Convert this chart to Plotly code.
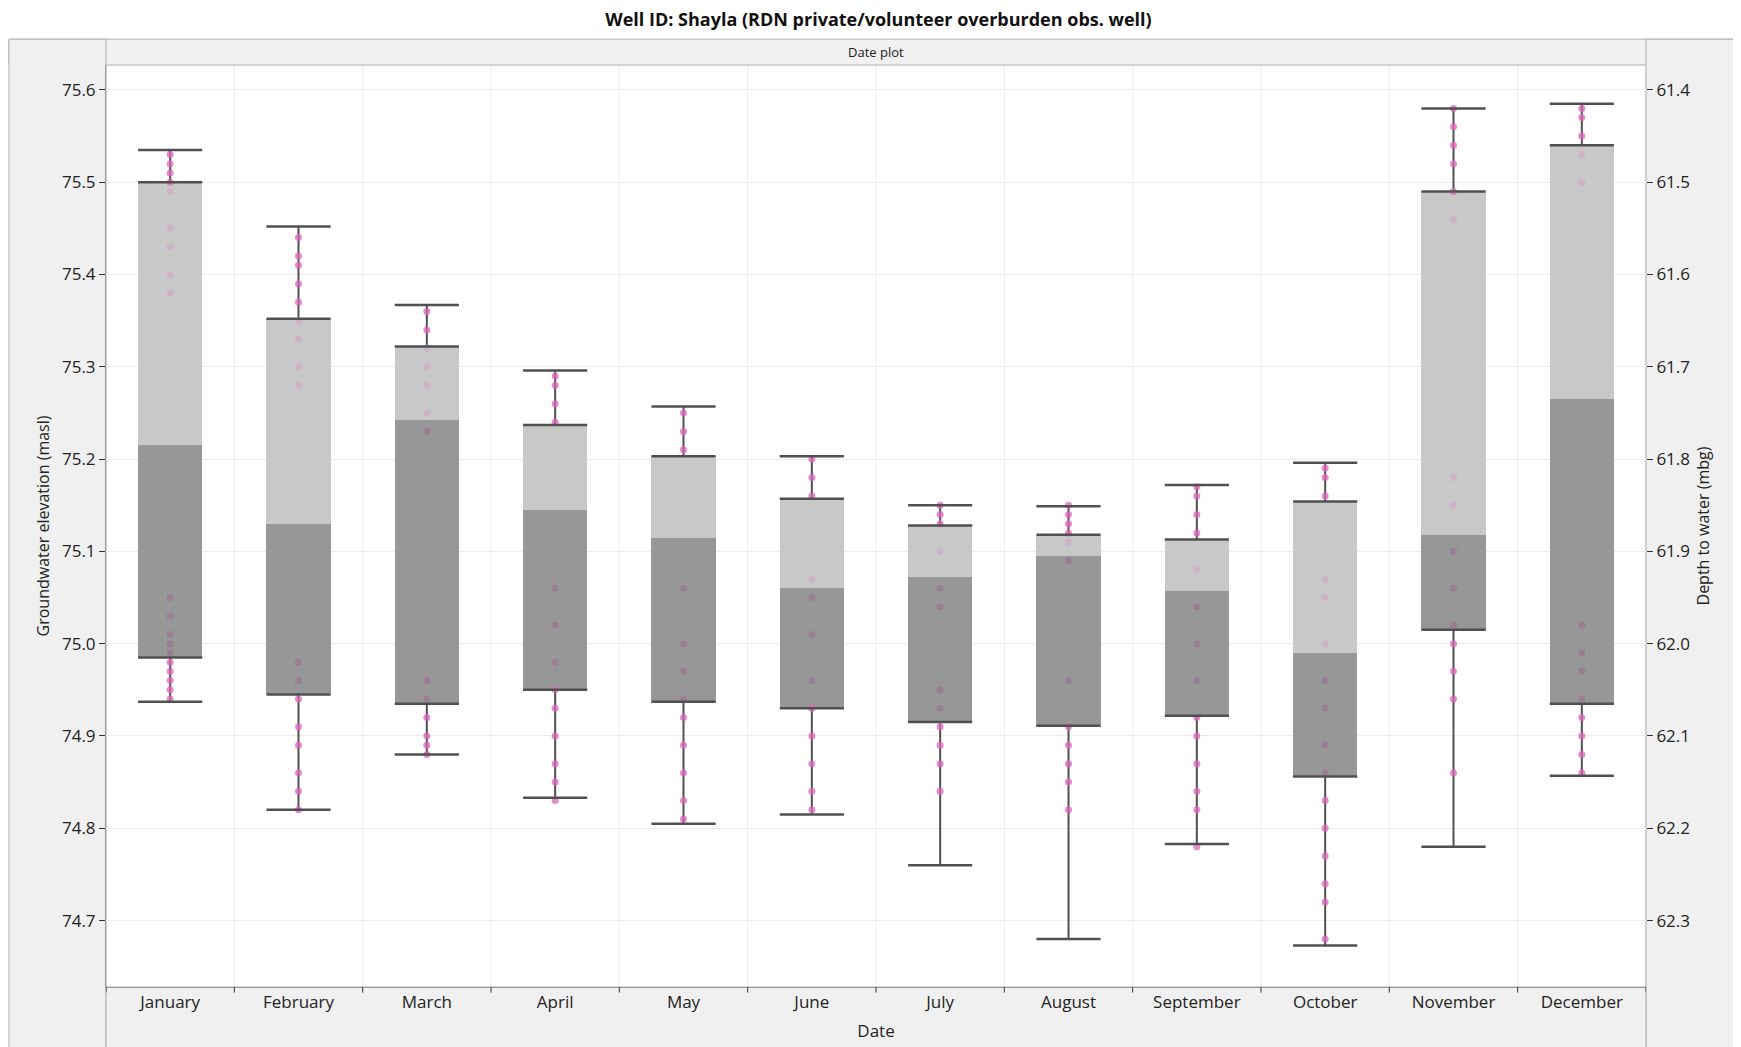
import plotly.graph_objects as go

months = ['January', 'February', 'March', 'April', 'May', 'June', 'July',
          'August', 'September', 'October', 'November', 'December']
w_min = [74.937, 74.820, 74.880, 74.833, 74.805, 74.815, 74.760, 74.680, 74.783, 74.673, 74.780, 74.857]
q1 = [74.985, 74.945, 74.935, 74.950, 74.937, 74.930, 74.915, 74.911, 74.922, 74.856, 75.015, 74.935]
med = [75.215, 75.130, 75.242, 75.145, 75.115, 75.060, 75.072, 75.095, 75.057, 74.990, 75.118, 75.265]
q3 = [75.500, 75.352, 75.322, 75.237, 75.203, 75.157, 75.128, 75.118, 75.113, 75.154, 75.490, 75.540]
w_max = [75.535, 75.452, 75.367, 75.296, 75.257, 75.203, 75.150, 75.149, 75.172, 75.196, 75.580, 75.585]

obs = [
    [74.94, 74.95, 74.96, 74.97, 74.98, 74.99, 75.00, 75.01, 75.03, 75.05, 75.38, 75.40, 75.43, 75.45, 75.49, 75.50, 75.51, 75.52, 75.53],
    [74.82, 74.84, 74.86, 74.89, 74.91, 74.94, 74.96, 74.98, 75.28, 75.30, 75.33, 75.35, 75.37, 75.39, 75.41, 75.42, 75.44],
    [74.88, 74.89, 74.90, 74.92, 74.94, 74.96, 75.23, 75.25, 75.28, 75.30, 75.32, 75.34, 75.36],
    [74.83, 74.85, 74.87, 74.90, 74.93, 74.95, 74.98, 75.02, 75.06, 75.24, 75.26, 75.28, 75.29],
    [74.81, 74.83, 74.86, 74.89, 74.92, 74.94, 74.97, 75.00, 75.06, 75.21, 75.23, 75.25],
    [74.82, 74.84, 74.87, 74.90, 74.93, 74.96, 75.01, 75.05, 75.07, 75.16, 75.18, 75.20],
    [74.84, 74.87, 74.89, 74.91, 74.93, 74.95, 75.04, 75.06, 75.10, 75.13, 75.14, 75.15],
    [74.82, 74.85, 74.87, 74.89, 74.91, 74.96, 75.09, 75.11, 75.12, 75.13, 75.14, 75.15],
    [74.78, 74.82, 74.84, 74.87, 74.90, 74.92, 74.96, 75.00, 75.04, 75.08, 75.12, 75.14, 75.16, 75.17],
    [74.68, 74.72, 74.74, 74.77, 74.80, 74.83, 74.86, 74.89, 74.93, 74.96, 75.00, 75.05, 75.07, 75.16, 75.18, 75.19],
    [74.86, 74.94, 74.97, 75.00, 75.02, 75.06, 75.10, 75.15, 75.18, 75.46, 75.49, 75.52, 75.54, 75.56, 75.58],
    [74.86, 74.88, 74.90, 74.92, 74.94, 74.97, 74.99, 75.02, 75.50, 75.53, 75.55, 75.57, 75.58],
]

OFFSET = 137.0  # depth to water = OFFSET - elevation
YR = [74.628, 75.627]

xs = list(range(len(months)))
fig = go.Figure()

fig.add_trace(go.Bar(x=xs, y=[m - a for a, m in zip(q1, med)], base=q1, width=0.5,
                     marker=dict(color='#979797', line=dict(width=0)), showlegend=False))
fig.add_trace(go.Bar(x=xs, y=[b - m for m, b in zip(med, q3)], base=med, width=0.5,
                     marker=dict(color='#c8c8c8', line=dict(width=0)), showlegend=False))

for i in xs:
    fig.add_trace(go.Scatter(x=[i, i], y=[w_min[i], q1[i]], mode='lines',
                             line=dict(color='#505050', width=2), showlegend=False))
    fig.add_trace(go.Scatter(x=[i, i], y=[q3[i], w_max[i]], mode='lines',
                             line=dict(color='#505050', width=2), showlegend=False))

for i, vals in enumerate(obs):
    # points seen through the semi-transparent box look washed out
    cols = []
    for v in vals:
        if q1[i] < v < med[i]:
            cols.append('#9a7e94')
        elif med[i] <= v < q3[i]:
            cols.append('#cdb3c6')
        else:
            cols.append('rgba(222,100,190,0.75)')
    fig.add_trace(go.Scatter(x=[i] * len(vals), y=vals, mode='markers',
                             marker=dict(color=cols, size=7), showlegend=False,
                             hoverinfo='y'))

for i in xs:
    fig.add_trace(go.Scatter(x=[i - 0.25, i + 0.25, None, i - 0.25, i + 0.25, None,
                                i - 0.25, i + 0.25, None, i - 0.25, i + 0.25],
                             y=[w_min[i], w_min[i], None, w_max[i], w_max[i], None,
                                q1[i], q1[i], None, q3[i], q3[i]],
                             mode='lines', line=dict(color='#505050', width=2.5),
                             showlegend=False))

# dummy trace for right axis
fig.add_trace(go.Scatter(x=[0], y=[OFFSET - 75.0], yaxis='y2', mode='markers',
                         marker=dict(opacity=0), showlegend=False, hoverinfo='skip'))

shapes = []
for i in range(len(months) + 1):
    shapes.append(dict(type='line', xref='x', yref='paper', x0=i - 0.5, x1=i - 0.5,
                       y0=0, y1=1, line=dict(color='#ececec', width=1), layer='below'))
    shapes.append(dict(type='line', xref='x', yref='paper', x0=i - 0.5, x1=i - 0.5,
                       y0=0, y1=-0.006, line=dict(color='#333', width=1)))
# grey frame areas
frame = dict(xref='paper', yref='paper', type='rect', fillcolor='#f0f0f0',
             line=dict(color='#b0b0b0', width=1), layer='below')
shapes += [
    dict(frame, x0=-0.063, x1=1.07, y0=1.0, y1=1.028),
    dict(frame, x0=-0.063, x1=0, y0=-0.068, y1=1.028),
    dict(frame, x0=1, x1=1.07, y0=-0.068, y1=1.028),
    dict(frame, x0=0, x1=1, y0=-0.068, y1=0),
]

font = 'Open Sans'
fig.update_layout(
    width=1741, height=1047,
    margin=dict(l=98, r=103, t=57, b=68),
    paper_bgcolor='white', plot_bgcolor='white',
    barmode='overlay', bargap=0,
    font=dict(family=font, size=17, color='#222'),
    title=dict(text='<b>Well ID: Shayla (RDN private/volunteer overburden obs. well)</b>',
               x=0.5, xanchor='center', y=0.995, yanchor='top', font=dict(size=18, color='#111')),
    xaxis=dict(tickvals=xs, ticktext=months, range=[-0.5, 11.5], showgrid=False,
               zeroline=False, ticks='', showline=True, linecolor='#999',
               title=dict(text='Date', standoff=12, font=dict(size=17))),
    yaxis=dict(range=YR, dtick=0.1, tickformat='.1f', gridcolor='#ececec', zeroline=False,
               ticks='outside', ticklen=6, tickcolor='#333', showline=True, linecolor='#999',
               title=dict(text='Groundwater elevation (masl)', font=dict(size=16), standoff=8)),
    yaxis2=dict(overlaying='y', side='right', range=[OFFSET - YR[0], OFFSET - YR[1]],
                dtick=0.1, tickformat='.1f', showgrid=False, zeroline=False,
                ticks='outside', ticklen=6, tickcolor='#333',
                title=dict(text='Depth to water (mbg)', font=dict(size=16), standoff=8)),
    shapes=shapes,
    annotations=[dict(text='Date plot', xref='paper', yref='paper', x=0.5, y=1.014,
                      yanchor='middle', showarrow=False, font=dict(size=13, color='#222'))],
)

fig.write_html('out.html')
